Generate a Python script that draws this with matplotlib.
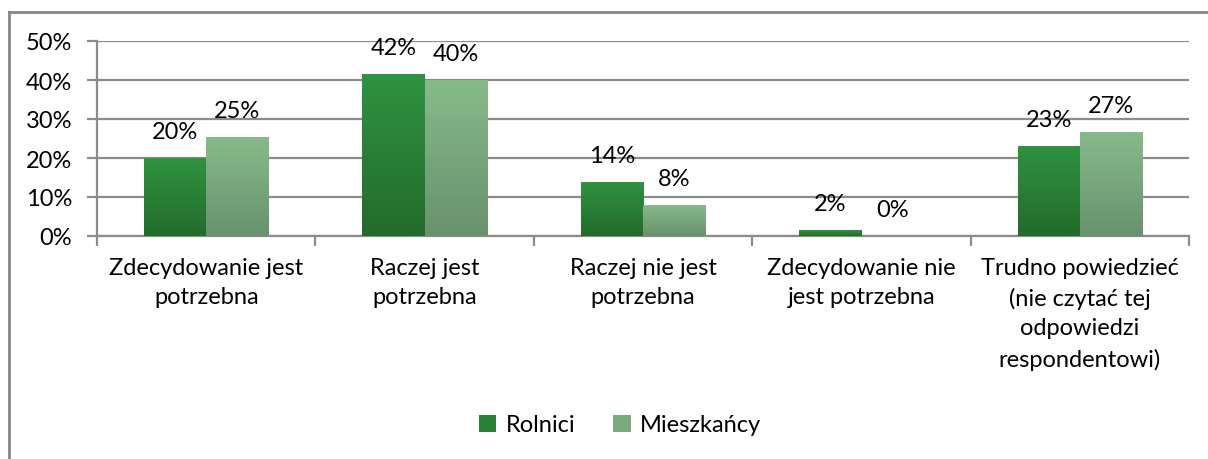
import matplotlib
matplotlib.use("Agg")
import matplotlib.pyplot as plt
import numpy as np
from matplotlib.colors import LinearSegmentedColormap
from matplotlib.lines import Line2D
from matplotlib.patches import Patch

plt.rcParams['font.family'] = ['Lato', 'DejaVu Sans']

categories = ["Zdecydowanie jest\npotrzebna", "Raczej jest\npotrzebna",
              "Raczej nie jest\npotrzebna", "Zdecydowanie nie\njest potrzebna",
              "Trudno powiedzieć\n(nie czytać tej\nodpowiedzi\nrespondentowi)"]
series_names = ["Rolnici", "Mieszkańcy"]
rolnici = [20.0, 41.5, 13.8, 1.5, 23.1]
mieszkancy = [25.4, 40.1, 8.0, 0.0, 26.7]
labels_r = ["20%", "42%", "14%", "2%", "23%"]
labels_m = ["25%", "40%", "8%", "0%", "27%"]
yticks = [0, 10, 20, 30, 40, 50]

FS = 17
W, H = 1208, 460
fig = plt.figure(figsize=(W / 100, H / 100), dpi=100)
ax = fig.add_axes([97 / W, 1 - 237 / H, (1189 - 97) / W, (237 - 42) / H])

x = np.arange(len(categories))
bw = 0.285
grad_r = LinearSegmentedColormap.from_list("r", ["#236B2B", "#2F9340"])
grad_m = LinearSegmentedColormap.from_list("m", ["#68926C", "#87BB8B"])

bars_r = ax.bar(x - bw / 2, rolnici, bw, color="#2A8037", zorder=2)
bars_m = ax.bar(x + bw / 2, mieszkancy, bw, color="#7AA97E", zorder=2)

grad = np.linspace(0, 1, 256).reshape(-1, 1)
for bars, cmap in [(bars_r, grad_r), (bars_m, grad_m)]:
    for b in bars:
        bx, by = b.get_x(), b.get_y()
        bwid, bh = b.get_width(), b.get_height()
        if bh <= 0:
            continue
        im = ax.imshow(grad, cmap=cmap, origin="lower", aspect="auto",
                       extent=[bx, bx + bwid, by, by + bh], zorder=3)
        im.set_clip_path(b)
        b.set_alpha(0)

ax.set_xlim(-0.5, len(categories) - 0.5)
ax.set_ylim(0, 50)

for bars, labs in [(bars_r, labels_r), (bars_m, labels_m)]:
    for b, lab in zip(bars, labs):
        ax.annotate(lab, (b.get_x() + b.get_width() / 2, b.get_height()),
                    xytext=(0, 19), textcoords="offset points", ha="center",
                    va="center", fontsize=FS, color="#000000", zorder=5)

ax.set_yticks(yticks)
ax.set_yticklabels([f"{v}%" for v in yticks], fontsize=FS)
ax.yaxis.grid(True, color="#8C8C8C", linewidth=1.6, zorder=0)
ax.set_axisbelow(True)

ax.set_xticks(np.arange(len(categories) + 1) - 0.5)
ax.set_xticklabels([])
ax.set_xticks(x, minor=True)
ax.set_xticklabels(categories, minor=True, fontsize=FS, linespacing=1.5,
                   va="top")
ax.tick_params(axis="x", which="minor", length=0, pad=15)
ax.tick_params(axis="x", which="major", length=7, width=1.6, color="#8C8C8C")
ax.tick_params(axis="y", length=7, width=1.6, color="#8C8C8C", pad=11)

for s in ["top", "right"]:
    ax.spines[s].set_visible(False)
for s in ["left", "bottom"]:
    ax.spines[s].set_color("#8C8C8C")
    ax.spines[s].set_linewidth(1.6)

handles = [Patch(facecolor="#2A8037", label=series_names[0]),
           Patch(facecolor="#7AA97E", label=series_names[1])]
fig.legend(handles=handles, loc="center", bbox_to_anchor=(620 / W, 1 - 426 / H),
           ncol=2, frameon=False, fontsize=FS, handlelength=0.75,
           handleheight=0.75, handletextpad=0.4, columnspacing=1.6)

# outer frame
fig.add_artist(Line2D([9 / W, 9 / W], [0, 1 - 13 / H], transform=fig.transFigure,
                      color="#878787", linewidth=2))
fig.add_artist(Line2D([9 / W, 1], [1 - 13 / H, 1 - 13 / H], transform=fig.transFigure,
                      color="#878787", linewidth=2))

fig.savefig("out.png", dpi=100)
